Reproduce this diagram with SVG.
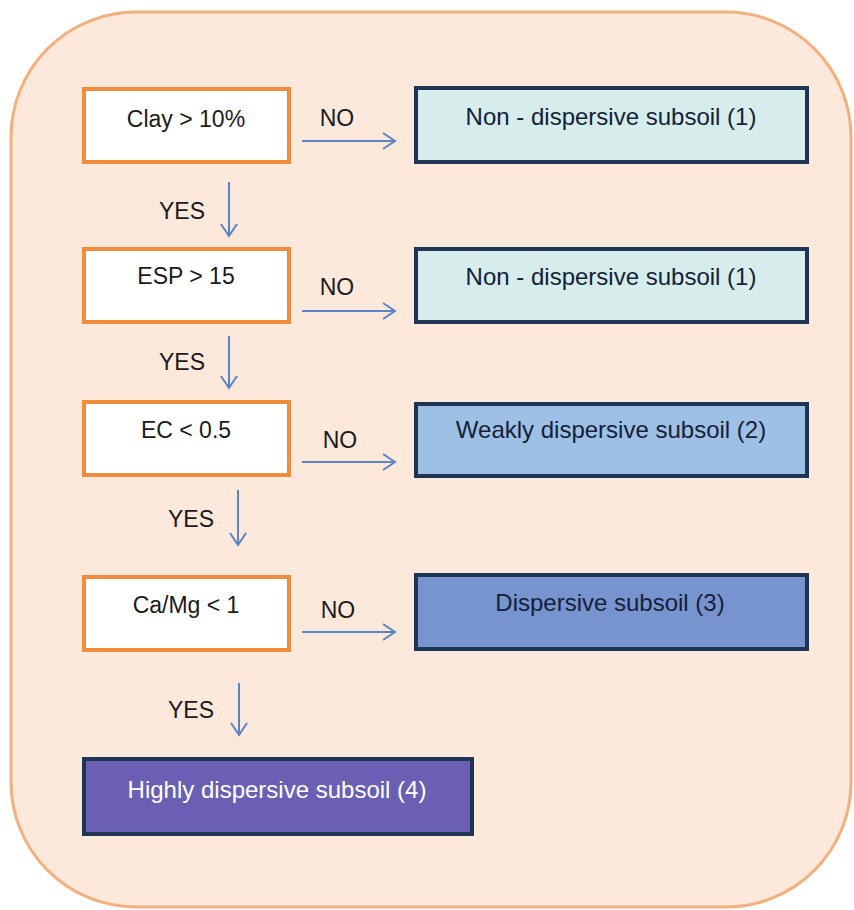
<svg xmlns="http://www.w3.org/2000/svg" width="854" height="910" viewBox="0 0 854 910">
<style>
text{font-family:"Liberation Sans",Arial,sans-serif;font-size:23px;text-anchor:middle}
.q{fill:#fff;stroke:#F08C3C;stroke-width:4}
.r{stroke:#1F3556;stroke-width:4}
.t{fill:#1a1a1a}
.rt{fill:#14213A;font-size:24px}
.c{fill:none;stroke:#5B84C4;stroke-width:2}
</style>
<rect x="11" y="12" width="840" height="895" rx="125" ry="125" fill="#FCE9DB" stroke="#F2B07E" stroke-width="3"/>
<g id="connectors">
<path class="c" d="M302 141H395M383 133L395 141L383 149"/>
<path class="c" d="M302 311H395M383 303L395 311L383 319"/>
<path class="c" d="M302 462H395M383 454L395 462L383 470"/>
<path class="c" d="M302 632H395M383 624L395 632L383 640"/>
<path class="c" d="M229 182V236M221 224L229 236L237 224"/>
<path class="c" d="M229 336V388M221 376L229 388L237 376"/>
<path class="c" d="M238 490V545M230 533L238 545L246 533"/>
<path class="c" d="M239 683V735M231 723L239 735L247 723"/>
<text class="t" x="337" y="126">NO</text>
<text class="t" x="337" y="295">NO</text>
<text class="t" x="340" y="448">NO</text>
<text class="t" x="338" y="618">NO</text>
<text class="t" x="182" y="219">YES</text>
<text class="t" x="182" y="370">YES</text>
<text class="t" x="191" y="527">YES</text>
<text class="t" x="191" y="718">YES</text>
</g>
<g id="clay"><rect class="q" x="84" y="89" width="205" height="73"/><text class="t" x="186" y="127">Clay &gt; 10%</text></g>
<g id="esp"><rect class="q" x="84" y="249" width="205" height="73"/><text class="t" x="186" y="284">ESP &gt; 15</text></g>
<g id="ec"><rect class="q" x="84" y="402" width="205" height="73"/><text class="t" x="186" y="438">EC &lt; 0.5</text></g>
<g id="camg"><rect class="q" x="84" y="577" width="205" height="73"/><text class="t" x="186" y="613">Ca/Mg &lt; 1</text></g>
<g id="nondisp1"><rect class="r" x="416" y="88" width="391" height="74" fill="#D6EDEC"/><text class="rt" x="611" y="125">Non - dispersive subsoil (1)</text></g>
<g id="nondisp2"><rect class="r" x="416" y="249" width="391" height="73" fill="#D6EDEC"/><text class="rt" x="611" y="285">Non - dispersive subsoil (1)</text></g>
<g id="weak"><rect class="r" x="416" y="404" width="391" height="72" fill="#9DC0E4"/><text class="rt" x="611" y="438">Weakly dispersive subsoil (2)</text></g>
<g id="disp"><rect class="r" x="416" y="575" width="391" height="74" fill="#7894CE"/><text class="rt" x="610" y="611">Dispersive subsoil (3)</text></g>
<g id="highly"><rect class="r" x="84" y="759" width="388" height="75" fill="#6A5FB2"/><text x="277" y="798" fill="#fff" style="font-size:24px">Highly dispersive subsoil (4)</text></g>
</svg>
